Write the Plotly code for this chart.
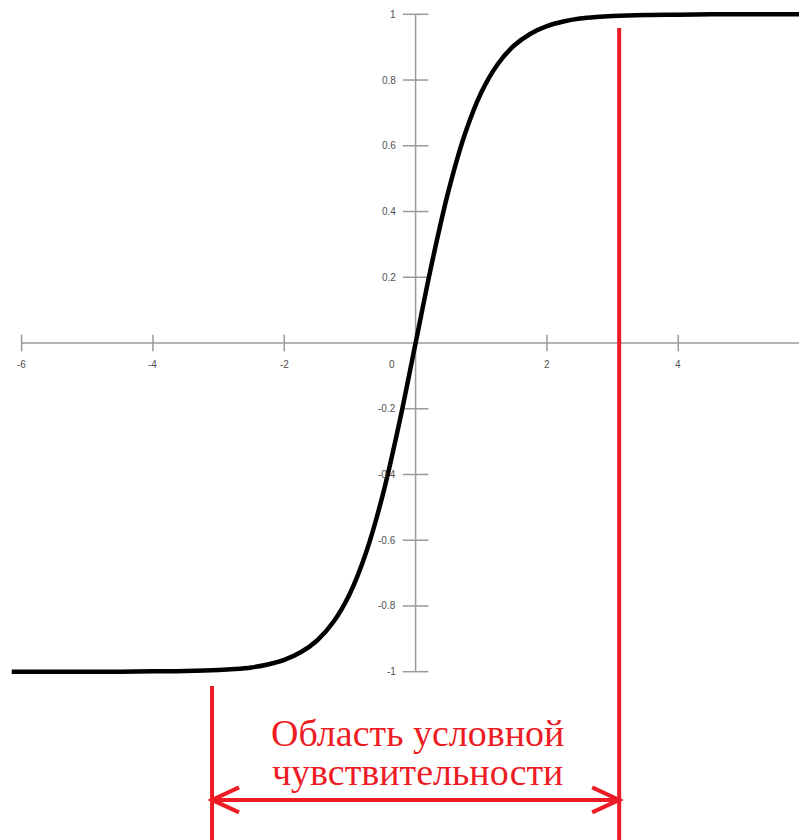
import plotly.graph_objects as go

# curve points (tanh-like sigmoid)
curve_x = [-6.15, -5.5, -5.0, -4.5, -4.0, -3.5, -3.0, -2.75, -2.5, -2.25, -2.0, -1.75, -1.5,
           -1.25, -1.0, -0.75, -0.5, -0.25, 0.0, 0.25, 0.5, 0.75, 1.0, 1.25, 1.5, 1.75,
           2.0, 2.25, 2.5, 2.75, 3.0, 3.5, 4.0, 4.5, 5.0, 5.5, 6.0]
curve_y = [-1.0, -1.0, -1.0, -1.0, -0.999, -0.998, -0.995, -0.992, -0.987, -0.978, -0.964,
           -0.941, -0.905, -0.848, -0.762, -0.635, -0.462, -0.245, 0.0, 0.245, 0.462, 0.635,
           0.762, 0.848, 0.905, 0.941, 0.964, 0.978, 0.987, 0.992, 0.995, 0.998, 0.999,
           1.0, 1.0, 1.0, 1.0]

x_ticks = [-6, -4, -2, 2, 4, 6]
x_tick_labels = ["-6", "-4", "-2", "2", "4", "6"]
y_ticks = [1, 0.8, 0.6, 0.4, 0.2, -0.2, -0.4, -0.6, -0.8, -1]
y_tick_labels = ["1", "0.8", "0.6", "0.4", "0.2", "-0.2", "-0.4", "-0.6", "-0.8", "-1"]

region_left = -3.1
region_right = 3.1
label_lines = ["Область условной", "чувствительности"]

RED = "#ED1C24"
GRAY = "#9a9a9a"
px_x = 65.67   # px per x unit
px_y = 328.7   # px per y unit
# page body has an 8px margin, so origin sits at (407.6, 335) inside the figure
x0_px, y0_px = 407.6, 335.0
xr = [-x0_px / px_x, (807 - x0_px) / px_x]
yr = [(y0_px - 840) / px_y, y0_px / px_y]

fig = go.Figure()

# axes
fig.add_trace(go.Scatter(x=[-6, 6], y=[0, 0], mode="lines",
                         line=dict(color=GRAY, width=1.5), hoverinfo="skip"))
fig.add_trace(go.Scatter(x=[0, 0], y=[-1, 1], mode="lines",
                         line=dict(color=GRAY, width=1.5), hoverinfo="skip"))

# crossing tick marks
tx, ty = [], []
for t in x_ticks:
    tx += [t, t, None]
    ty += [8.3 / px_y, -8.3 / px_y, None]
for t in y_ticks:
    tx += [-12.8 / px_x, 12.8 / px_x, None]
    ty += [t, t, None]
fig.add_trace(go.Scatter(x=tx, y=ty, mode="lines",
                         line=dict(color=GRAY, width=1.5), hoverinfo="skip"))

# curve
fig.add_trace(go.Scatter(x=curve_x, y=curve_y, mode="lines", line_shape="spline",
                         line=dict(color="black", width=4.5)))

# red region bounds and arrow
arrow_y = -1.39
fig.add_shape(type="line", x0=region_right, x1=region_right, y0=0.958, y1=yr[0],
              line=dict(color=RED, width=4))
fig.add_shape(type="line", x0=region_left, x1=region_left, y0=-1.0435, y1=yr[0],
              line=dict(color=RED, width=4))
fig.add_shape(type="line", x0=region_left, x1=region_right, y0=arrow_y, y1=arrow_y,
              line=dict(color=RED, width=4))
hx = 27 / px_x
hy = 12.5 / px_y
for xa, d in [(region_left, 1), (region_right, -1)]:
    fig.add_shape(type="path",
                  path=f"M {xa + d*hx} {arrow_y + hy} L {xa} {arrow_y} L {xa + d*hx} {arrow_y - hy}",
                  line=dict(color=RED, width=4))

tick_font = dict(family="Liberation Sans, Arial", size=10, color="#505050")
for t, lab in zip(x_ticks, x_tick_labels):
    fig.add_annotation(x=t, y=-21 / px_y, text=lab, showarrow=False,
                       xanchor="center", yanchor="middle", font=tick_font)
for t, lab in zip(y_ticks, y_tick_labels):
    fig.add_annotation(x=-18 / px_x, y=t, text=lab, showarrow=False,
                       xanchor="right", yanchor="middle", font=tick_font)
fig.add_annotation(x=-24 / px_x, y=-21 / px_y, text="0", showarrow=False,
                   xanchor="center", yanchor="middle", font=tick_font)

label_font = dict(family="Liberation Serif, Times New Roman", size=38, color=RED)
for i, line in enumerate(label_lines):
    fig.add_annotation(x=0.03, y=(343 - 733 - 39 * i) / px_y, text=line, showarrow=False,
                       xanchor="center", yanchor="middle", font=label_font, borderpad=0)

fig.update_layout(
    width=807, height=840,
    margin=dict(l=0, r=0, t=0, b=0),
    paper_bgcolor="white", plot_bgcolor="white",
    showlegend=False,
    xaxis=dict(range=xr, visible=False),
    yaxis=dict(range=yr, visible=False),
)

fig.write_html("out.html")
